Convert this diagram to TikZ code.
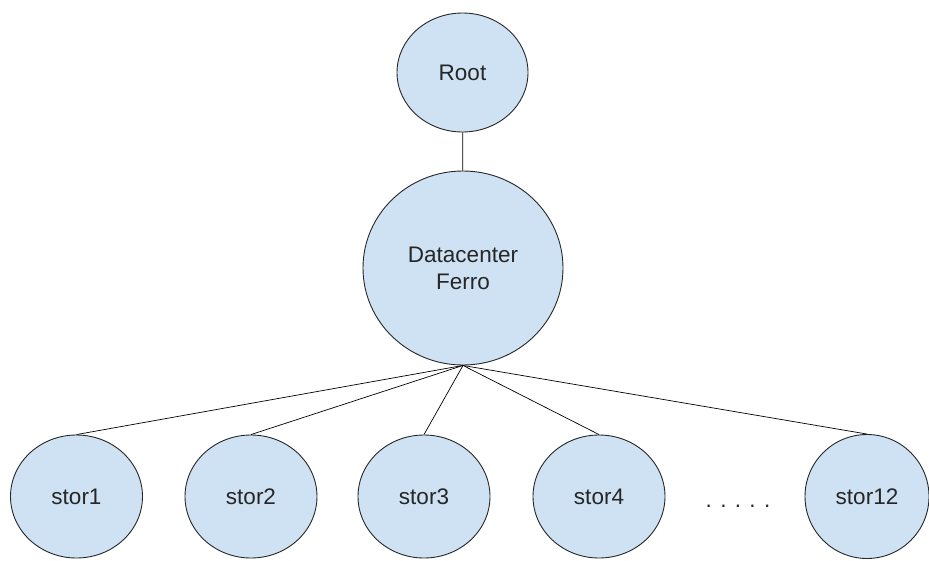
\documentclass[tikz,border=0pt]{standalone}
\usepackage{fontspec}
\setmainfont{Liberation Sans}
\usepackage{xcolor}
\usepackage{tikz}
\usetikzlibrary{positioning,shapes.geometric}
\definecolor{tnfill}{HTML}{CFE2F3}
\definecolor{tnink}{HTML}{262626}

\begin{document}
\begin{tikzpicture}[
  x=1pt, y=-1pt,
  font=\fontsize{22.5}{27}\selectfont,
  tnode/.style={ellipse, draw=tnink, line width=0.9pt, fill=tnfill,
    align=center, inner sep=0pt, text=tnink},
  stornode/.style={tnode, minimum width=132pt, minimum height=123pt},
  link/.style={draw=black, line width=0.7pt},
  ]
  \useasboundingbox (0,0) rectangle (929,560);

  % Root and the datacenter below it.
  \node[tnode, minimum width=131pt, minimum height=119pt] (root) at (462.5,72.5) {Root};
  \node[tnode, minimum width=200pt, minimum height=194pt] (dc) at (463,268) {Datacenter\\Ferro};
  \draw[link] (root) -- (dc);

  % Storage hosts.
  \node[stornode] (stor1) at (76.5,496.5) {stor1};
  \node[stornode] (stor2) at (251,496.5) {stor2};
  \node[stornode] (stor3) at (424,496.5) {stor3};
  \node[stornode] (stor4) at (599,496.5) {stor4};
  \node[stornode, minimum width=124pt, minimum height=124pt] (stor12) at (867,496.5) {stor12};
  \node[anchor=base, text=tnink] (dots) at (738,507) {. . . . .};

  \draw[link] (dc.south) -- (stor1.north);
  \draw[link] (dc.south) -- (stor2.north);
  \draw[link] (dc.south) -- (stor3.north);
  \draw[link] (dc.south) -- (stor4.north);
  \draw[link] (dc.south) -- (stor12.north);
\end{tikzpicture}
\end{document}
